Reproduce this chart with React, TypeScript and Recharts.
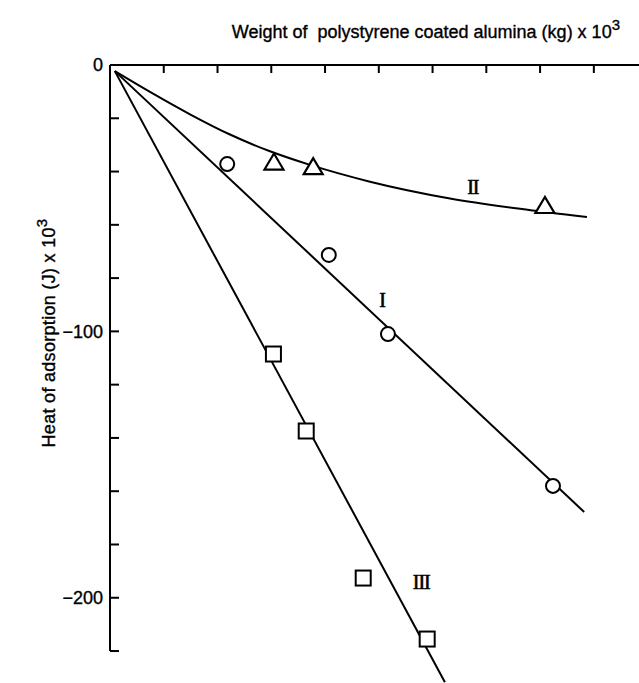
import React from 'react';
import { ScatterChart, Scatter, XAxis, YAxis, ReferenceLine, ReferenceDot, Label } from 'recharts';

// Series I (circles)
const circlesI = [
  { x: 2.18, y: -37.2 },
  { x: 4.07, y: -71.3 },
  { x: 5.17, y: -101.0 },
  { x: 8.24, y: -158.0 },
];
// Series II (triangles)
const trianglesII = [
  { x: 3.05, y: -37.0 },
  { x: 3.78, y: -38.7 },
  { x: 8.09, y: -53.3 },
];
// Series III (squares)
const squaresIII = [
  { x: 3.04, y: -108.5 },
  { x: 3.65, y: -137.4 },
  { x: 4.71, y: -192.6 },
  { x: 5.9, y: -215.5 },
];
// Drawn fit curves
const fitI = [
  { x: 0.09, y: -2.3 },
  { x: 8.82, y: -167.8 },
];
const fitII = [
  { x: 0.09, y: -2.3 },
  { x: 0.744, y: -10.1 },
  { x: 1.488, y: -18.5 },
  { x: 2.232, y: -26.1 },
  { x: 2.976, y: -32.4 },
  { x: 3.72, y: -37.5 },
  { x: 4.836, y: -43.8 },
  { x: 6.324, y: -50.1 },
  { x: 7.626, y: -54.0 },
  { x: 8.872, y: -57.1 },
];
const fitIII = [
  { x: 0.09, y: -2.3 },
  { x: 6.23, y: -231.7 },
];
const xTicks = [1, 2, 3, 4, 5, 6, 7, 8, 9];
const yTicks = [0, -20, -40, -60, -80, -100, -120, -140, -160, -180, -200, -220];
const curveLabels = [
  { x: 5.06, y: -88.2, text: 'I' },
  { x: 6.75, y: -45.6, text: 'II' },
  { x: 5.79, y: -194.1, text: 'III' },
];

const SANS = '"Liberation Sans", Arial, Helvetica, sans-serif';
const SERIF = '"Liberation Serif", "Times New Roman", serif';

const Circle = (p: any) => (
  <circle cx={p.cx} cy={p.cy} r={7} fill="#fff" stroke="#000" strokeWidth={2} />
);
const Square = (p: any) => (
  <rect x={p.cx - 7.5} y={p.cy - 7.5} width={15} height={15} fill="#fff" stroke="#000" strokeWidth={2} />
);
const Triangle = (p: any) => (
  <polygon
    points={`${p.cx},${p.cy - 10} ${p.cx - 9.5},${p.cy + 6} ${p.cx + 9.5},${p.cy + 6}`}
    fill="#fff"
    stroke="#000"
    strokeWidth={2.2}
    strokeLinejoin="miter"
  />
);
const NoShape = () => <g />;

const fmtY = (v: number) => {
  if (v === 0) return '0';
  if (v % 100 === 0) return '\u2212' + Math.abs(v);
  return '';
};

export default function App() {
  return (
    <div style={{ position: 'absolute', left: 0, top: 0, background: '#fff' }}>
      <ScatterChart
        width={639}
        height={683}
        margin={{ top: 64, right: 0, bottom: 0, left: 50 }}
        style={{ fontFamily: SANS }}
      >
        <XAxis
          type="number"
          dataKey="x"
          orientation="top"
          domain={[0, 9.84]}
          ticks={xTicks}
          height={1}
          tickSize={-8}
          tickFormatter={() => ''}
          axisLine={{ stroke: '#000', strokeWidth: 2 }}
          tickLine={{ stroke: '#000', strokeWidth: 2 }}
          allowDataOverflow
        >
          <Label
            content={() => (
              <text
                x={620}
                y={38}
                textAnchor="end"
                fontFamily={SANS}
                fontSize={18}
                fill="#000"
                stroke="#000"
                strokeWidth={0.35}
                style={{ whiteSpace: 'pre' }}
              >
                {'Weight of  polystyrene coated alumina (kg) x 10'}
                <tspan dy={-8} fontSize={15}>3</tspan>
              </text>
            )}
          />
        </XAxis>
        <YAxis
          type="number"
          dataKey="y"
          domain={[-232, 0]}
          ticks={yTicks}
          width={60}
          tickSize={-9}
          tickMargin={16}
          tickFormatter={fmtY}
          tick={{ fill: '#000', fontSize: 18, fontFamily: SANS, stroke: '#000', strokeWidth: 0.35 }}
          axisLine={false}
          tickLine={{ stroke: '#000', strokeWidth: 2 }}
          allowDataOverflow
        >
          <Label
            content={() => (
              <text
                x={55}
                y={333}
                transform="rotate(-90, 55, 333)"
                textAnchor="middle"
                fontFamily={SANS}
                fontSize={18}
                fill="#000"
                stroke="#000"
                strokeWidth={0.35}
                letterSpacing={0.3}
              >
                Heat of adsorption (J) x 10
                <tspan dy={-8} fontSize={15}>3</tspan>
              </text>
            )}
          />
        </YAxis>
        <ReferenceLine
          segment={[{ x: 0, y: 0 }, { x: 0, y: -220 }]}
          stroke="#000"
          strokeWidth={2}
          ifOverflow="visible"
        />
        <Scatter data={fitI} line={{ stroke: '#000', strokeWidth: 2 }} shape={NoShape} isAnimationActive={false} />
        <Scatter
          data={fitII}
          line={{ stroke: '#000', strokeWidth: 2 }}
          lineJointType="monotoneX"
          shape={NoShape}
          isAnimationActive={false}
        />
        <Scatter data={fitIII} line={{ stroke: '#000', strokeWidth: 2 }} shape={NoShape} isAnimationActive={false} />
        <Scatter data={circlesI} shape={Circle} isAnimationActive={false} />
        <Scatter data={trianglesII} shape={Triangle} isAnimationActive={false} />
        <Scatter data={squaresIII} shape={Square} isAnimationActive={false} />
        {curveLabels.map((l) => (
          <ReferenceDot
            key={l.text}
            x={l.x}
            y={l.y}
            r={0}
            fill="none"
            stroke="none"
            label={{
              value: l.text,
              position: 'center',
              fontFamily: SERIF,
              fontSize: 20,
              fill: '#000',
              stroke: '#000',
              strokeWidth: 0.6,
              letterSpacing: -1,
            }}
          />
        ))}
      </ScatterChart>
    </div>
  );
}
